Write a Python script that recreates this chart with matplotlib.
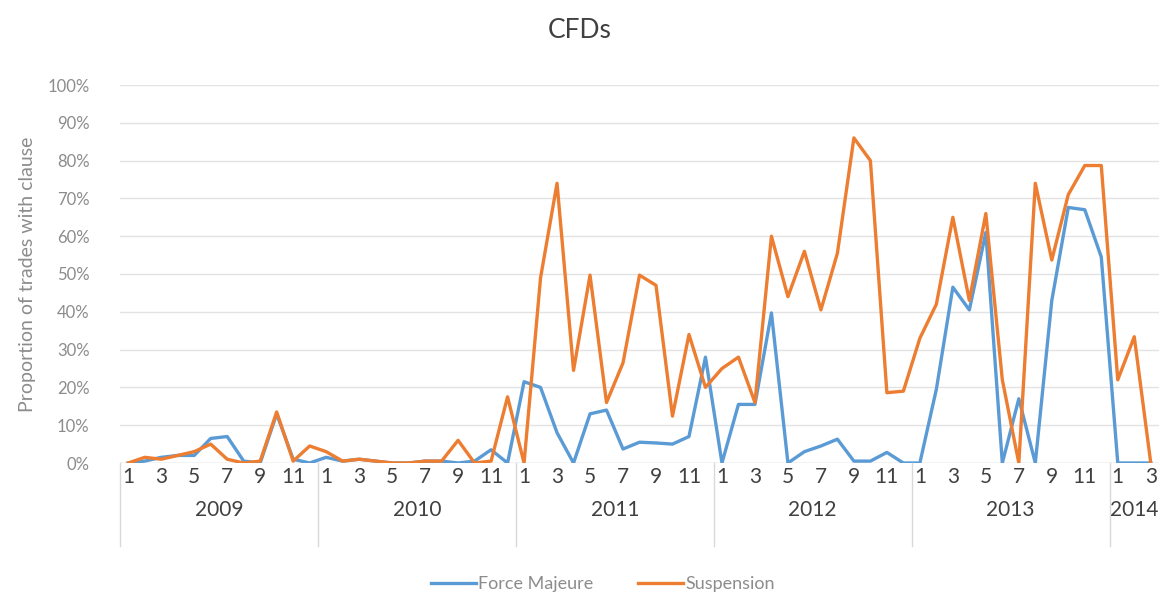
import matplotlib
matplotlib.use("Agg")
import matplotlib.pyplot as plt
import matplotlib.transforms as mtransforms
import numpy as np

plt.rcParams['font.family'] = ['Liberation Sans Narrow', 'Lato', 'DejaVu Sans']

years = ['2009', '2010', '2011', '2012', '2013', '2014']
months_per_year = [12, 12, 12, 12, 12, 3]

force_majeure = [
    0, 0.5, 1.5, 2, 2, 6.5, 7, 0.5, 0, 13, 1, 0,          # 2009
    1.5, 0.5, 1, 0.5, 0, 0, 0.5, 0.5, 0, 0.5, 3.5, 0,     # 2010
    21.5, 20, 8, 0, 13, 14, 3.7, 5.5, 5.3, 5, 7, 28,      # 2011
    0, 15.5, 15.5, 39.7, 0, 3, 4.5, 6.3, 0.5, 0.5, 2.8, 0,  # 2012
    0, 19.5, 46.5, 40.5, 61, 0, 17, 0, 43, 67.6, 67, 54.5,  # 2013
    0, 0, 0,                                               # 2014
]
suspension = [
    0, 1.5, 1, 2, 3, 5, 1, 0, 0.5, 13.5, 0.5, 4.5,        # 2009
    3, 0.5, 1, 0.5, 0, 0, 0.5, 0.5, 6, 0, 0.5, 17.5,      # 2010
    0, 49, 74, 24.5, 49.7, 16, 26.5, 49.7, 47, 12.4, 34, 20,  # 2011
    25, 28, 16, 60, 44, 56, 40.5, 55.5, 86, 80, 18.6, 19,    # 2012
    33, 42, 65, 43, 66, 22, 0, 74, 53.7, 71, 78.7, 78.7,     # 2013
    22, 33.4, 0,                                             # 2014
]

blue = '#5B9BD5'
orange = '#ED7D31'

fig = plt.figure(figsize=(11.59, 5.99), dpi=100)
ax = fig.add_axes([120 / 1159, 136 / 599, 1039 / 1159, 378 / 599])

x = np.arange(len(suspension))
ax.plot(x, force_majeure, color=blue, lw=2.4, label='Force Majeure', solid_joinstyle='round')
ax.plot(x, suspension, color=orange, lw=2.4, label='Suspension', solid_joinstyle='round')

ax.set_xlim(-0.5, len(x) - 0.5)
ax.set_ylim(0, 100)
ax.set_yticks(np.arange(0, 101, 10))
ax.set_yticklabels([f'{v}%' for v in range(0, 101, 10)], color='#8c8c8c', fontsize=12)
ax.yaxis.grid(True, color='#e3e3e3', lw=1)
ax.set_axisbelow(True)
ax.tick_params(axis='y', length=0, pad=22)
for s in ax.spines.values():
    s.set_visible(False)
ax.axhline(0, color='#d9d9d9', lw=1, zorder=0)

ax.set_ylabel('Proportion of trades with clause', color='#8c8c8c', fontsize=14, labelpad=8)

# month labels (odd months)
month_pos = []
month_lab = []
i = 0
for n in months_per_year:
    for m in range(1, n + 1):
        if m % 2 == 1:
            month_pos.append(i)
            month_lab.append(str(m))
        i += 1
ax.set_xticks(month_pos)
ax.set_xticklabels(month_lab, fontsize=15, color='#404040')
ax.tick_params(axis='x', length=0, pad=3)

# year labels and separators
trans = mtransforms.blended_transform_factory(ax.transData, ax.transAxes)
start = 0
for yr, n in zip(years, months_per_year):
    ax.plot([start - 0.5, start - 0.5], [0, -0.22], color='#d9d9d9', lw=1,
            transform=trans, clip_on=False)
    ax.text(start + (n - 1) / 2, -0.125, yr, transform=trans, ha='center', va='center',
            fontsize=15, color='#404040')
    start += n

fig.suptitle('CFDs', y=0.97, fontsize=19, color='#404040')
fig.legend(loc='center', bbox_to_anchor=(0.52, 0.025), ncol=2, frameon=False,
           fontsize=13, labelcolor='#8c8c8c', handlelength=2.5, columnspacing=2.5,
           handletextpad=0.1)

fig.savefig('out.png', dpi=100)
